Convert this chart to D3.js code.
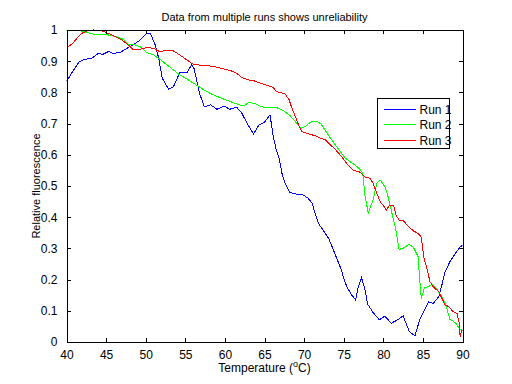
<!DOCTYPE html>
<html>
<head>
<meta charset="utf-8">
<script src="https://cdn.jsdelivr.net/npm/d3@7"></script>
<style>
  body { margin: 0; background: #fff; }
  svg { display: block; font-family: "Liberation Sans", Arial, sans-serif; }
</style>
</head>
<body>
<div id="chart"></div>
<script>
// series data: [temperature, relative fluorescence]
const run1 = [
  [40.0, 0.835], [40.9, 0.872], [41.6, 0.898], [42.3, 0.906], [43.2, 0.909], [44.0, 0.925],
  [44.6, 0.922], [45.3, 0.931], [45.9, 0.925], [46.8, 0.928], [47.6, 0.941], [48.4, 0.952],
  [49.3, 0.968], [50.0, 0.987], [50.6, 0.989], [51.2, 0.952], [51.6, 0.914], [52.1, 0.845],
  [52.9, 0.810], [53.5, 0.818], [54.3, 0.863], [55.2, 0.863], [55.8, 0.888], [56.1, 0.877],
  [56.8, 0.797], [57.4, 0.754], [58.2, 0.760], [59.0, 0.746], [59.9, 0.756], [60.6, 0.746],
  [61.5, 0.752], [62.1, 0.735], [62.8, 0.701], [63.6, 0.667], [64.3, 0.695], [65.0, 0.705],
  [65.7, 0.728], [66.1, 0.658], [66.5, 0.615], [66.9, 0.583], [67.2, 0.541], [67.6, 0.509],
  [68.2, 0.480], [69.1, 0.473], [69.9, 0.471], [70.5, 0.461], [71.0, 0.445], [71.4, 0.412],
  [71.8, 0.380], [72.4, 0.359], [73.1, 0.332], [73.7, 0.295], [74.3, 0.257], [74.7, 0.231],
  [75.0, 0.204], [75.4, 0.177], [76.0, 0.151], [76.5, 0.135], [76.8, 0.172], [77.25, 0.206],
  [77.7, 0.167], [78.0, 0.122], [78.7, 0.095], [79.5, 0.071], [80.2, 0.083], [81.0, 0.060],
  [81.8, 0.071], [82.5, 0.084], [83.3, 0.033], [84.0, 0.020], [84.6, 0.071], [85.3, 0.108],
  [85.7, 0.129], [86.3, 0.124], [87.0, 0.145], [87.4, 0.183], [87.8, 0.225], [88.4, 0.257],
  [89.1, 0.284], [89.7, 0.304], [90.0, 0.311]
];
const run2 = [
  [40.0, 0.997], [40.7, 1.0], [41.7, 0.998], [43.0, 0.989], [44.0, 0.984], [45.3, 0.984],
  [46.1, 0.979], [47.0, 0.973], [47.8, 0.955], [48.6, 0.952], [49.3, 0.947], [50.1, 0.928],
  [51.0, 0.920], [51.8, 0.906], [52.7, 0.888], [53.5, 0.872], [54.3, 0.856], [55.4, 0.840],
  [56.3, 0.825], [57.3, 0.809], [58.2, 0.796], [59.3, 0.784], [60.3, 0.774], [61.3, 0.765],
  [62.3, 0.756], [63.0, 0.767], [63.8, 0.765], [64.6, 0.754], [65.5, 0.751], [66.4, 0.753],
  [67.4, 0.741], [68.2, 0.726], [68.9, 0.706], [69.6, 0.685], [70.1, 0.690], [70.9, 0.706],
  [71.5, 0.708], [72.1, 0.700], [72.9, 0.669], [74.1, 0.626], [75.2, 0.589], [76.6, 0.564],
  [77.1, 0.552], [77.4, 0.541], [77.7, 0.466], [78.1, 0.414], [78.7, 0.455], [79.2, 0.509],
  [79.6, 0.519], [80.2, 0.498], [80.6, 0.466], [81.1, 0.412], [81.5, 0.370], [81.8, 0.327],
  [82.0, 0.297], [82.5, 0.300], [83.2, 0.313], [83.8, 0.304], [84.4, 0.273], [84.6, 0.199],
  [84.8, 0.138], [85.2, 0.175], [85.7, 0.177], [86.1, 0.185], [86.7, 0.172], [87.4, 0.145],
  [87.9, 0.119], [88.4, 0.073], [89.1, 0.062], [89.6, 0.044], [89.9, 0.038], [90.0, 0.035]
];
const run3 = [
  [40.0, 0.944], [40.7, 0.955], [41.3, 0.973], [41.9, 0.989], [42.6, 0.997], [43.4, 1.0],
  [44.4, 0.998], [45.3, 0.989], [46.1, 0.979], [47.0, 0.968], [47.8, 0.952], [48.4, 0.938],
  [49.3, 0.938], [50.1, 0.944], [51.0, 0.941], [51.8, 0.930], [52.7, 0.936], [53.5, 0.933],
  [54.3, 0.920], [55.2, 0.904], [56.0, 0.890], [57.0, 0.887], [58.4, 0.884], [59.6, 0.877],
  [60.8, 0.869], [61.5, 0.861], [62.1, 0.848], [63.0, 0.840], [63.6, 0.838], [64.5, 0.829],
  [65.4, 0.822], [66.1, 0.816], [66.5, 0.803], [67.6, 0.795], [68.1, 0.777], [68.4, 0.754],
  [68.9, 0.722], [69.3, 0.696], [69.7, 0.674], [70.6, 0.667], [71.5, 0.660], [72.2, 0.652],
  [72.7, 0.648], [73.3, 0.632], [73.8, 0.621], [74.3, 0.607], [74.9, 0.589], [75.4, 0.571],
  [76.2, 0.551], [77.1, 0.544], [77.7, 0.528], [78.3, 0.525], [78.7, 0.509], [79.1, 0.482],
  [79.6, 0.450], [80.1, 0.434], [80.4, 0.423], [80.8, 0.439], [81.3, 0.439], [81.6, 0.407],
  [82.0, 0.391], [82.5, 0.389], [83.2, 0.370], [83.8, 0.356], [84.4, 0.348], [84.8, 0.336],
  [85.1, 0.273], [85.5, 0.236], [85.9, 0.193], [86.3, 0.177], [87.0, 0.161], [87.4, 0.140],
  [87.8, 0.119], [88.3, 0.113], [88.8, 0.097], [89.3, 0.092], [89.6, 0.060], [89.7, 0.017],
  [89.9, 0.038], [90.0, 0.038]
];
const seriesNames = ["Run 1", "Run 2", "Run 3"];
const seriesColors = ["#0000ff", "#00ff00", "#ff0000"];
const xTicks = [40, 45, 50, 55, 60, 65, 70, 75, 80, 85, 90];
const yTicks = [0, 0.1, 0.2, 0.3, 0.4, 0.5, 0.6, 0.7, 0.8, 0.9, 1];

const width = 512, height = 384;
const margin = { top: 30, right: 49.5, bottom: 42, left: 66.5 };
const iw = width - margin.left - margin.right;
const ih = height - margin.top - margin.bottom;

const svg = d3.select("#chart").append("svg")
  .attr("width", width)
  .attr("height", height);

const x = d3.scaleLinear().domain([40, 90]).range([margin.left, margin.left + iw]);
const y = d3.scaleLinear().domain([0, 1]).range([margin.top + ih, margin.top]);

// clip to the axes box
svg.append("clipPath").attr("id", "plot")
  .append("rect")
  .attr("x", margin.left).attr("y", margin.top - 1)
  .attr("width", iw).attr("height", ih + 2);

const line = d3.line().x(d => x(d[0])).y(d => y(d[1]));

// aliased 1px lines, like the original renderer
svg.append("g").attr("clip-path", "url(#plot)")
  .selectAll("path")
  .data([run1, run2, run3])
  .join("path")
  .attr("d", line)
  .attr("fill", "none")
  .attr("stroke", (d, i) => seriesColors[i])
  .attr("stroke-width", 1)
  .attr("shape-rendering", "crispEdges");

// axes, MATLAB style: inward ticks on all four sides
const fmt = d => d === 0 || d === 1 ? String(d) : d3.format(".1f")(d);
const axisStyle = g => {
  g.select(".domain").remove();
  g.selectAll("line").attr("stroke", "#000").attr("shape-rendering", "crispEdges");
  g.selectAll("text").attr("fill", "#000").attr("font-size", 12)
    .attr("font-family", "'Liberation Sans', Arial, sans-serif");
};

svg.append("g")
  .attr("transform", `translate(0,${margin.top + ih})`)
  .call(d3.axisBottom(x).tickValues(xTicks).tickSize(-4).tickPadding(8))
  .call(axisStyle);
svg.append("g")
  .attr("transform", `translate(0,${margin.top})`)
  .call(d3.axisTop(x).tickValues(xTicks).tickSize(-4).tickFormat(""))
  .call(axisStyle);
svg.append("g")
  .attr("transform", `translate(${margin.left},0)`)
  .call(d3.axisLeft(y).tickValues(yTicks).tickSize(-4).tickPadding(9).tickFormat(fmt))
  .call(axisStyle);
svg.append("g")
  .attr("transform", `translate(${margin.left + iw},0)`)
  .call(d3.axisRight(y).tickValues(yTicks).tickSize(-4).tickFormat(""))
  .call(axisStyle);

svg.append("rect")
  .attr("x", Math.round(margin.left) + 0.5).attr("y", margin.top + 0.5)
  .attr("width", Math.round(iw)).attr("height", ih)
  .attr("fill", "none").attr("stroke", "#000");

// title and labels
svg.append("text")
  .attr("x", margin.left + iw / 2).attr("y", 21)
  .attr("text-anchor", "middle").attr("font-size", 11)
  .text("Data from multiple runs shows unreliability");

const xl = svg.append("text")
  .attr("x", margin.left + iw / 2).attr("y", 372)
  .attr("text-anchor", "middle").attr("font-size", 12);
xl.append("tspan").text("Temperature (");
xl.append("tspan").attr("font-size", 9).attr("dy", -5).text("o");
xl.append("tspan").attr("dy", 5).text("C)");

svg.append("text")
  .attr("transform", `translate(40,${margin.top + ih / 2}) rotate(-90)`)
  .attr("text-anchor", "middle").attr("font-size", 11)
  .text("Relative fluorescence");

// legend
const lg = svg.append("g").attr("transform", "translate(377.5,98.5)");
lg.append("rect").attr("width", 72).attr("height", 50)
  .attr("fill", "#fff").attr("stroke", "#000");
seriesNames.forEach((name, i) => {
  const ry = 10.5 + i * 15.5;
  lg.append("line").attr("x1", 6).attr("x2", 38).attr("y1", ry).attr("y2", ry)
    .attr("stroke", seriesColors[i]).attr("shape-rendering", "crispEdges");
  lg.append("text").attr("x", 42).attr("y", ry + 4.5).attr("font-size", 12).text(name);
});
</script>
</body>
</html>
